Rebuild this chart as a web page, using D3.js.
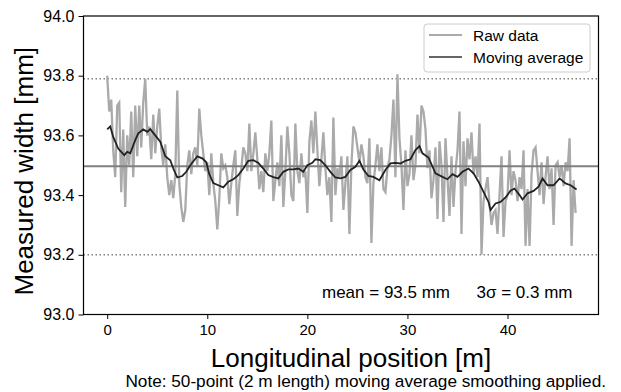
<!DOCTYPE html>
<html>
<head>
<meta charset="utf-8">
<title>Measured width</title>
<script src="https://d3js.org/d3.v7.min.js"></script>
<style>
  body { margin: 0; background: #fff; }
  svg text { font-family: "Liberation Sans", Arial, sans-serif; fill: #000; }
</style>
</head>
<body>
<svg id="chart" width="621" height="392"></svg>
<script>

  /* Raw measurement, one value every 0.2 m starting at 0 m */
  var rawStep = 0.2;
  var rawWidth = [
    93.80, 93.68, 93.72, 93.55, 93.46, 93.70, 93.71, 93.41, 93.62, 93.36,
    93.60, 93.50, 93.68, 93.46, 93.70, 93.53, 93.70, 93.56, 93.71, 93.79,
    93.60, 93.63, 93.52, 93.67, 93.54, 93.63, 93.69, 93.56, 93.50, 93.57,
    93.46, 93.40, 93.45, 93.39, 93.47, 93.75, 93.44, 93.36, 93.31, 93.35,
    93.50, 93.55, 93.47, 93.54, 93.56, 93.50, 93.69, 93.60, 93.54, 93.48,
    93.51, 93.40, 93.54, 93.44, 93.38, 93.285, 93.39, 93.54, 93.49, 93.50,
    93.46, 93.37, 93.44, 93.50, 93.55, 93.33, 93.44, 93.49, 93.56, 93.54,
    93.48, 93.64, 93.48, 93.54, 93.61, 93.52, 93.42, 93.48, 93.41, 93.54,
    93.48, 93.54, 93.65, 93.38, 93.45, 93.51, 93.43, 93.60, 93.36, 93.48,
    93.63, 93.54, 93.40, 93.38, 93.64, 93.48, 93.44, 93.54, 93.46, 93.48,
    93.34, 93.58, 93.65, 93.54, 93.68, 93.55, 93.43, 93.52, 93.61, 93.49,
    93.40, 93.46, 93.31, 93.66, 93.40, 93.49, 93.46, 93.53, 93.35, 93.44,
    93.53, 93.27, 93.50, 93.63, 93.61, 93.56, 93.51, 93.57, 93.53, 93.46,
    93.44, 93.59, 93.24, 93.44, 93.50, 93.57, 93.48, 93.56, 93.42, 93.41,
    93.49, 93.52, 93.60, 93.72, 93.46, 93.805, 93.59, 93.50, 93.35, 93.55,
    93.43, 93.47, 93.60, 93.45, 93.50, 93.67, 93.54, 93.70, 93.68, 93.62,
    93.49, 93.55, 93.39, 93.45, 93.56, 93.32, 93.58, 93.50, 93.31, 93.59,
    93.46, 93.33, 93.53, 93.36, 93.48, 93.55, 93.68, 93.27, 93.58, 93.43,
    93.59, 93.52, 93.61, 93.47, 93.53, 93.46, 93.64, 93.20, 93.38, 93.42,
    93.46, 93.37, 93.30, 93.34, 93.35, 93.27, 93.40, 93.53, 93.26, 93.38,
    93.40, 93.55, 93.40, 93.48, 93.45, 93.38, 93.46, 93.42, 93.55, 93.23,
    93.42, 93.23, 93.47, 93.55, 93.56, 93.48, 93.40, 93.51, 93.37, 93.46,
    93.53, 93.42, 93.49, 93.30, 93.50, 93.51, 93.46, 93.50, 93.43, 93.51,
    93.48, 93.59, 93.23, 93.45, 93.34
  ];

  /* Moving average */
  var avgPos = [
    0.0, 0.3, 0.6, 1.1, 1.7, 2.0, 2.3, 2.8, 3.1, 3.6, 4.0, 4.3, 4.8, 5.3, 5.8,
    6.3, 6.6, 7.0, 7.5, 7.9, 8.3, 9.0, 9.5, 9.9, 10.2, 10.6, 11.1, 11.6, 12.1,
    12.6, 13.1, 13.6, 14.1, 14.6, 15.1, 15.6, 16.1, 16.6, 17.1, 17.6, 18.1,
    18.6, 19.1, 19.6, 20.0, 20.5, 20.8, 21.3, 21.8, 22.3, 22.8, 23.3, 23.8,
    24.3, 24.8, 25.2, 25.6, 26.1, 26.6, 27.2, 27.8, 28.3, 28.8, 29.3, 29.8,
    30.3, 30.8, 31.2, 31.5, 32.1, 32.8, 33.5, 34.0, 34.5, 35.0, 35.5, 36.1,
    36.6, 37.1, 37.6, 38.1, 38.3, 38.8, 39.3, 39.8, 40.3, 40.7, 41.2, 41.5,
    42.0, 42.6, 43.1, 43.5, 44.0, 44.6, 45.2, 45.8, 46.3, 46.9
  ];
  var avgWidth = [
    93.620, 93.630, 93.595, 93.556, 93.534, 93.545, 93.540, 93.584, 93.607, 93.620, 93.612, 93.621, 93.600, 93.579, 93.530,
    93.517, 93.489, 93.459, 93.464, 93.478, 93.500, 93.530, 93.523, 93.510, 93.470, 93.440, 93.433, 93.426, 93.445,
    93.453, 93.467, 93.489, 93.515, 93.517, 93.508, 93.489, 93.467, 93.460, 93.456, 93.478, 93.486,
    93.486, 93.489, 93.478, 93.500, 93.508, 93.520, 93.517, 93.500, 93.478, 93.459, 93.456, 93.461,
    93.484, 93.495, 93.515, 93.486, 93.464, 93.461, 93.450, 93.484, 93.506, 93.508, 93.506, 93.515,
    93.520, 93.551, 93.564, 93.540, 93.526, 93.473, 93.461, 93.453, 93.470, 93.461, 93.478, 93.489,
    93.473, 93.445, 93.411, 93.377, 93.350, 93.372, 93.377, 93.392, 93.415, 93.422, 93.400, 93.385,
    93.406, 93.414, 93.428, 93.456, 93.433, 93.433, 93.456, 93.439, 93.433, 93.419
  ];

  var meanWidth = 93.497;
  var limitUpper = 93.79;
  var limitLower = 93.20;
  var xTicks = [0, 10, 20, 30, 40];
  var yTicks = [93.0, 93.2, 93.4, 93.6, 93.8, 94.0];
  var seriesNames = ["Raw data", "Moving average"];

  function draw() {
    var svg = d3.select("#chart");
    var pl = 83.5, pr = 598.5, pt = 16, pb = 314.5;

    var x = d3.scaleLinear().domain([-2.37, 49.09]).range([pl, pr]);
    var y = d3.scaleLinear().domain([93, 94]).range([pb, pt]);

    /* Clip so nothing spills out of the frame */
    svg.append("clipPath").attr("id", "plotclip")
      .append("rect").attr("x", pl).attr("y", pt)
      .attr("width", pr - pl).attr("height", pb - pt);

    var plot = svg.append("g").attr("clip-path", "url(#plotclip)");

    /* Control limits */
    plot.selectAll("line.limit").data([limitUpper, limitLower]).enter()
      .append("line").attr("class", "limit")
      .attr("x1", pl).attr("x2", pr)
      .attr("y1", function(d) { return y(d); }).attr("y2", function(d) { return y(d); })
      .attr("stroke", "#808080").attr("stroke-width", 1.5)
      .attr("stroke-dasharray", "1.5,2.5");

    /* Raw data */
    var rawLine = d3.line()
      .x(function(d, i) { return x(i * rawStep); })
      .y(function(d) { return y(d); });
    plot.append("path").datum(rawWidth)
      .attr("d", rawLine)
      .attr("fill", "none").attr("stroke", "#aaaaaa").attr("stroke-width", 2.3);

    /* Mean */
    plot.append("line")
      .attr("x1", pl).attr("x2", pr)
      .attr("y1", y(meanWidth)).attr("y2", y(meanWidth))
      .attr("stroke", "#808080").attr("stroke-width", 2);

    /* Moving average */
    var avgLine = d3.line()
      .x(function(d, i) { return x(avgPos[i]); })
      .y(function(d) { return y(d); });
    plot.append("path").datum(avgWidth)
      .attr("d", avgLine)
      .attr("fill", "none").attr("stroke", "#222222").attr("stroke-width", 1.8);

    /* Axes */
    var xAxis = d3.axisBottom(x).tickValues(xTicks).tickSize(4.5).tickPadding(5)
      .tickFormat(d3.format("d"));
    var yAxis = d3.axisLeft(y).tickValues(yTicks).tickSize(5).tickPadding(4)
      .tickFormat(d3.format(".1f"));

    var gx = svg.append("g").attr("transform", "translate(0," + pb + ")").call(xAxis);
    var gy = svg.append("g").attr("transform", "translate(" + pl + ",0)").call(yAxis);
    gx.selectAll(".tick text").style("font-size", "15px");
    gy.selectAll(".tick text").style("font-size", "16px");
    [gx, gy].forEach(function(g) {
      g.select(".domain").remove();
      g.selectAll(".tick line").attr("stroke", "#000");
      g.selectAll(".tick text")
        .style("font-family", "'Liberation Sans', Arial, sans-serif");
    });

    /* Frame */
    svg.append("rect").attr("x", pl).attr("y", pt)
      .attr("width", pr - pl).attr("height", pb - pt)
      .attr("fill", "none").attr("stroke", "#000").attr("stroke-width", 1.2);

    /* Axis titles */
    svg.append("text").attr("x", 351).attr("y", 367)
      .attr("text-anchor", "middle").style("font-size", "26px")
      .text("Longitudinal position [m]");
    svg.append("text")
      .attr("transform", "translate(33," + ((pt + pb) / 2 + 6) + ") rotate(-90)")
      .attr("text-anchor", "middle").style("font-size", "26px")
      .text("Measured width [mm]");

    /* Stats annotation */
    svg.append("text").attr("x", 322).attr("y", 298).style("font-size", "17px")
      .text("mean = 93.5 mm\u2003\u00a0 3\u03c3 = 0.3 mm");

    /* Footnote */
    svg.append("text").attr("x", 606).attr("y", 387)
      .attr("text-anchor", "end").style("font-size", "17.2px")
      .text("Note: 50-point (2 m length) moving average smoothing applied.");

    /* Legend */
    var lg = svg.append("g");
    lg.append("rect").attr("x", 424).attr("y", 24).attr("width", 166).attr("height", 48)
      .attr("rx", 3).attr("fill", "#fff").attr("fill-opacity", 0.8)
      .attr("stroke", "#cccccc").attr("stroke-width", 1);
    var legendColors = ["#aaaaaa", "#666666"];
    seriesNames.forEach(function(name, i) {
      var ly = 35 + i * 22;
      lg.append("line").attr("x1", 429).attr("x2", 462).attr("y1", ly).attr("y2", ly)
        .attr("stroke", legendColors[i]).attr("stroke-width", 2);
      lg.append("text").attr("x", 473).attr("y", ly + 5.5).style("font-size", "15.5px")
        .text(name);
    });
  }

  draw();

</script>
</body>
</html>
